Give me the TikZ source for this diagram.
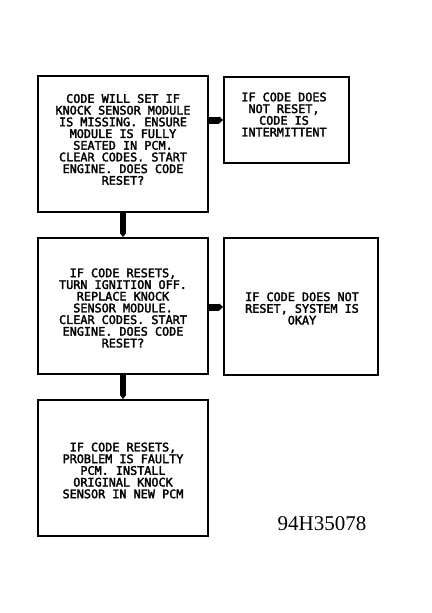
\documentclass[tikz,border=0pt]{standalone}
\usepackage{fontspec}
\newfontfamily\plotfont{DejaVu Sans Mono}[FakeBold=2.5]
\setmainfont{Liberation Serif}
\usetikzlibrary{arrows.meta}
\begin{document}
\begin{tikzpicture}[x=1pt,y=-1pt,
  box/.style={draw,line width=1.9pt,inner sep=0pt},
  boxtext/.style={align=center,font=\plotfont\fontsize{11.8}{11.7}\selectfont,inner sep=0pt},
  flow/.style={line width=7pt,-{Triangle[length=4pt,width=7pt]}},
  vflow/.style={line width=6pt,-{Triangle[length=4pt,width=6pt]}}]
\useasboundingbox (0,0) rectangle (431,613);
% boxes
\node[box,minimum width=170pt,minimum height=136pt] (b1) at (123,144) {};
\node[box,minimum width=125pt,minimum height=86pt] (b2) at (286.5,120) {};
\node[box,minimum width=170pt,minimum height=136pt] (b3) at (123,306) {};
\node[box,minimum width=154pt,minimum height=137pt] (b4) at (301,306.5) {};
\node[box,minimum width=170pt,minimum height=136pt] (b5) at (123,468) {};
% texts
\node[boxtext] (t1) at (123,139.5) {CODE WILL SET IF\\KNOCK SENSOR MODULE\\IS MISSING. ENSURE\\MODULE IS FULLY\\SEATED IN PCM.\\CLEAR CODES. START\\ENGINE. DOES CODE\\RESET?};
\node[boxtext] (t2) at (284,114.5) {IF CODE DOES\\NOT RESET,\\CODE IS\\INTERMITTENT};
\node[boxtext] (t3) at (123,308) {IF CODE RESETS,\\TURN IGNITION OFF.\\REPLACE KNOCK\\SENSOR MODULE.\\CLEAR CODES. START\\ENGINE. DOES CODE\\RESET?};
\node[boxtext] (t4) at (302,308.5) {IF CODE DOES NOT\\RESET, SYSTEM IS\\OKAY};
\node[boxtext] (t5) at (123,470.5) {IF CODE RESETS,\\PROBLEM IS FAULTY\\PCM. INSTALL\\ORIGINAL KNOCK\\SENSOR IN NEW PCM};
% label
\node[font=\fontsize{21}{21}\selectfont,inner sep=0pt] (lab) at (322,524) {94H35078};
% connectors
\draw[flow] (b1.east |- 0,120) -- (b2.west |- 0,120);
\draw[flow] (b3.east |- 0,307) -- (b4.west |- 0,307);
\draw[vflow] (b1.south -| 123,0) -- (b3.north -| 123,0);
\draw[vflow] (b3.south -| 123,0) -- (b5.north -| 123,0);
\end{tikzpicture}
\end{document}
